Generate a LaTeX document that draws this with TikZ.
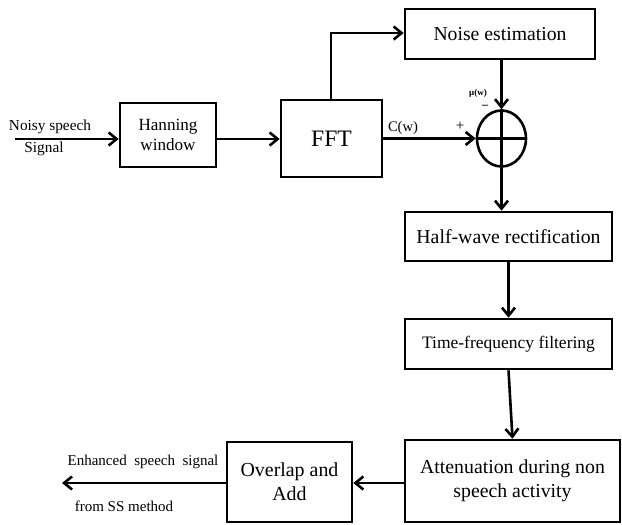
\documentclass[tikz,border=0pt]{standalone}
\usepackage{fontspec}
\setmainfont{Liberation Serif}
\usetikzlibrary{arrows.meta,shapes.geometric}
\newcommand{\fs}[1]{\fontsize{#1}{#1}\selectfont}
\begin{document}
\begin{tikzpicture}[x=1pt,y=-1pt,
  blk/.style={draw,line width=2.6pt,rectangle,inner sep=0pt,align=center},
  conn/.style={line width=2.6pt,-{Straight Barb[length=8pt,width=13pt,line width=2.6pt]}},
  wire/.style={line width=2.6pt},
  lbl/.style={inner sep=0pt}]
\useasboundingbox (0,0) rectangle (622,525);

% processing blocks
\node[blk,minimum width=96pt,minimum height=64pt,font=\fs{17.1}] (hann) at (168,135)
  {Hanning\\[3pt]window};
\node[blk,minimum width=101pt,minimum height=77pt,font=\fs{23.6}] (fft) at (331.5,138.5) {FFT};
\node[blk,minimum width=190pt,minimum height=50pt,font=\fs{19.7}] (noise) at (500,34) {Noise estimation};
\node[draw,ellipse,line width=2.6pt,minimum width=49pt,minimum height=56pt,inner sep=0pt] (sum) at (501.5,138.5) {};
\node[blk,minimum width=207pt,minimum height=49pt,font=\fs{19.8}] (half) at (508.5,236.5) {Half-wave rectification};
\node[blk,minimum width=207pt,minimum height=50pt,font=\fs{17.5}] (tf) at (508.5,344) {Time-frequency filtering};
\node[blk,minimum width=215pt,minimum height=82pt,font=\fs{19.8}] (att) at (512.5,481)
  {Attenuation during non\\[4pt]speech activity};
\node[blk,minimum width=125pt,minimum height=80pt,font=\fs{19.9}] (ola) at (289.5,482)
  {Overlap and\\[4pt]Add};

% summing junction cross
\draw[wire] (sum.north) -- (sum.south);
\draw[wire] (sum.west) -- (sum.east);

% input and output ends
\coordinate (in) at (15,139);
\coordinate (out) at (62,483);
\coordinate (bend) at (331,33);

% connectors
\draw[conn] (in) -- (hann.west |- in);
\draw[conn] (hann.east |- in) -- (fft.west |- in);
\draw[conn] (fft.north -| bend) -- (bend) -- (noise.west |- bend);
\draw[conn] (noise.south -| sum.north) -- (sum.north);
\draw[conn] (fft.east |- sum.west) -- (sum.west);
\draw[conn] (sum.south) -- (sum.south |- half.north);
\draw[conn] (half.south) -- (tf.north);
\draw[conn] (tf.south) -- (att.north);
\draw[conn] (att.west |- out) -- (ola.east |- out);
\draw[conn] (ola.west |- out) -- (out);

% labels
\node[lbl,font=\fs{15.3}] (lin1) at (50,127) {Noisy speech};
\node[lbl,font=\fs{15.3}] (lin2) at (44,149) {Signal};
\node[lbl,font=\fs{14.6}] (lc) at (403,128) {C(w)};
\node[lbl,font=\fs{15}] (lplus) at (460,126) {+};
\node[lbl,font=\bfseries\fs{9}] (lmu) at (478,93) {μ(w)};
\node[lbl,font=\bfseries\fs{12}] (lminus) at (485,107) {–};
\node[lbl,font=\fs{15}] (lout1) at (143,462) {Enhanced\ \ speech\ \ signal};
\node[lbl,font=\fs{15}] (lout2) at (124,506) {from SS method};
\end{tikzpicture}
\end{document}
